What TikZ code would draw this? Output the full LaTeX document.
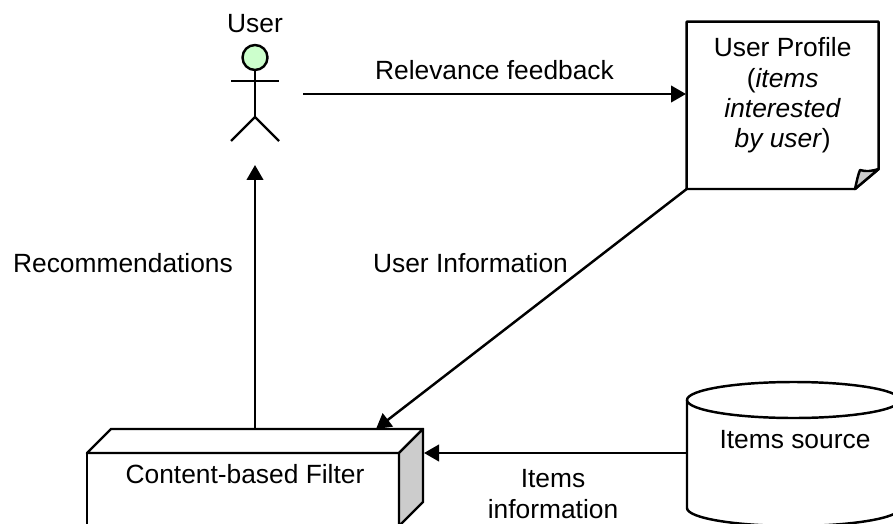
\documentclass[tikz,border=0pt]{standalone}
\usepackage{fontspec}
\setmainfont{Liberation Sans}
\usetikzlibrary{positioning,arrows.meta}
\tikzset{
    label/.style={font=\fontsize{15}{17.2}\selectfont, align=center, inner sep=0pt, anchor=base},
    block/.style={draw, line width=1.4pt, line join=round},
    flow/.style={line width=1.4pt, -{Triangle[length=0.3cm,width=0.33cm]}},
    link/.style={line width=1.4pt}
}
\definecolor{headgreen}{HTML}{CCFFCC}
\definecolor{sidegray}{HTML}{CCCCCC}

\begin{document}
\begin{tikzpicture}[x=0.02cm, y=-0.02cm]
    \clip (0,0) rectangle (893,524);
    \fill[white] (0,0) rectangle (893,524);

    % user
    \node[label] (userlabel) at (255,32) {User};
    \node[block, circle, fill=headgreen, minimum size=0.5cm, inner sep=0pt] (head) at (255,57.5) {};
    \coordinate (armL) at (231,81);
    \coordinate (armR) at (279,81);
    \coordinate (hip) at (255,117);
    \coordinate (footL) at (231,141);
    \coordinate (footR) at (279,141);
    \draw[link] (head) -- (hip);
    \draw[link] (armL) -- (armR);
    \draw[link] (footL) -- (hip) -- (footR);

    % user profile
    \coordinate (corner) at (878.7,169);
    \coordinate (foldtip) at (855,189);
    \draw[block, fill=white] (686.7,21.7) coordinate (profileNW) -- (878.7,21.7) -- (corner) -- (foldtip) -- (686.7,189) coordinate (profileSW) -- cycle;
    \draw[block, fill=sidegray] (foldtip) .. controls (857,180) and (858,175) .. (860,170) .. controls (866,172) and (872,171) .. (corner) -- cycle;
    \node[label, anchor=center] (profile) at (782.7,95.3) {User Profile\\(\textit{items}\\\textit{interested}\\\textit{by user})};

    % filter
    \draw[block, fill=white] (87,453) coordinate (frontNW) -- (399,453) coordinate (frontNE) -- (399,530) -- (87,530) -- cycle;
    \draw[block, fill=white] (frontNW) -- (111,429) -- (423,429) coordinate (backNE) -- (frontNE) -- cycle;
    \draw[block, fill=sidegray] (frontNE) -- (backNE) -- (423,502) -- (399,526) -- cycle;
    \node[label] (filter) at (245,483) {Content-based Filter};

    % items source
    \coordinate (cylL) at (687,400);
    \draw[block, fill=white] (cylL) -- (687,508) arc[start angle=180, end angle=360, x radius=106.5, y radius=-18] -- (900,400);
    \draw[block, fill=white] (793.5,400) ellipse[x radius=106.5, y radius=18];
    \node[label] (source) at (795,448) {Items source};

    % connectors
    \coordinate (fbStart) at (303,94);
    \coordinate (fbEnd) at (686,94);
    \coordinate (recStart) at (255,429);
    \coordinate (recEnd) at (255,165);
    \coordinate (infoEnd) at (376,429);
    \coordinate (itemStart) at (687,453);
    \coordinate (itemEnd) at (424,453);
    \draw[flow] (fbStart) -- (fbEnd);
    \draw[flow] (recStart) -- (recEnd);
    \draw[flow] (profileSW) -- (infoEnd);
    \draw[flow] (itemStart) -- (itemEnd);

    \node[label] (fblabel) at (494.5,79.5) {Relevance feedback};
    \node[label] (reclabel) at (123,272) {Recommendations};
    \node[label] (infolabel) at (470.5,272) {User Information};
    \node[label, anchor=center] (itemslabel) at (553,494) {Items\\information};
\end{tikzpicture}
\end{document}
